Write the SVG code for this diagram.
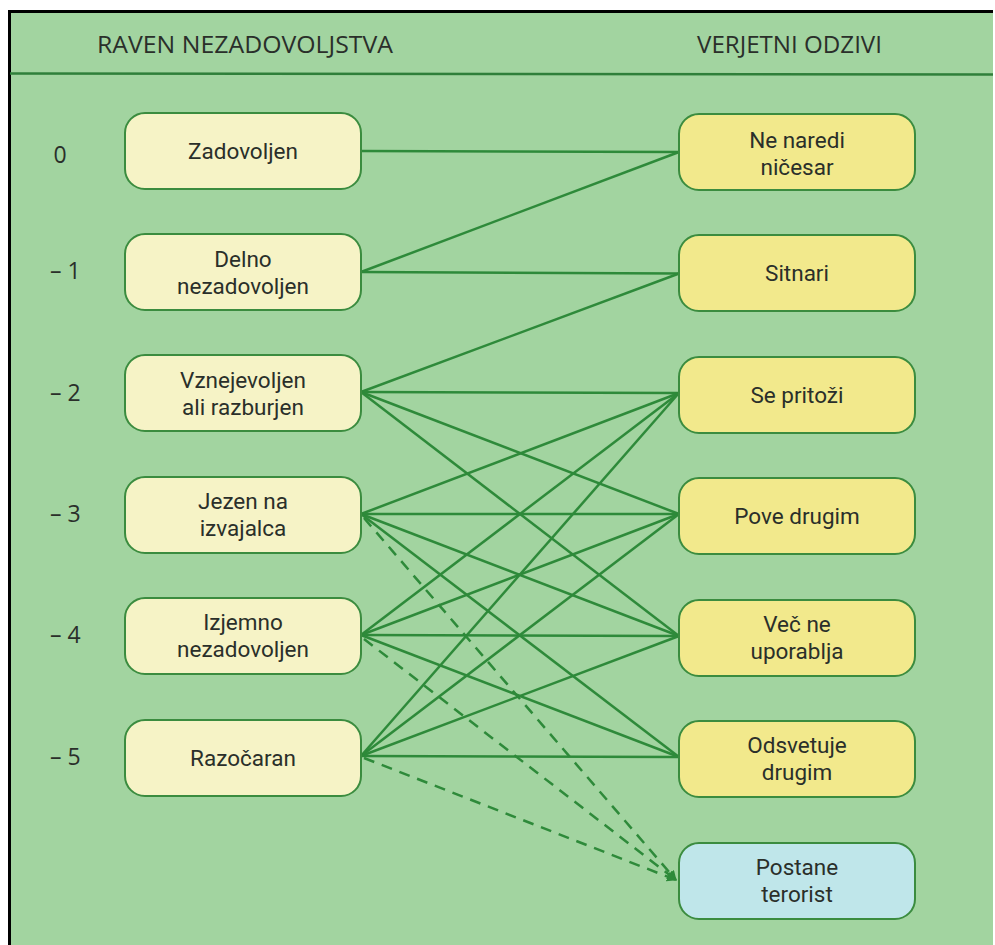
<svg xmlns="http://www.w3.org/2000/svg" width="995" height="945" viewBox="0 0 995 945">
<defs>
<style>
.bg{fill:#a2d4a0}
.frame{stroke:#000;stroke-width:3;fill:none}
.hdr{font-family:"Open Sans","Liberation Sans",sans-serif;font-size:24px;fill:#2a2f2a}
.lvl{font-family:"Open Sans","Liberation Sans",sans-serif;font-size:23px;fill:#2a2f2a}
.lbl{font-family:Roboto,"Open Sans","Liberation Sans",sans-serif;font-size:22.5px;fill:#2a2f2a;text-anchor:middle}
.nl{fill:#f6f3c6;stroke:#3b8c3f;stroke-width:2}
.nr{fill:#f2e98c;stroke:#3b8c3f;stroke-width:2}
.nt{fill:#bfe6ea;stroke:#3b8c3f;stroke-width:2}
.c{stroke:#2e8a3a;stroke-width:2.5;fill:none}
.d{stroke:#2e8a3a;stroke-width:2.5;fill:none;stroke-dasharray:11 8}
</style>
<marker id="ah" viewBox="0 0 10 10" refX="9" refY="5" markerWidth="4" markerHeight="4" markerUnits="strokeWidth" orient="auto">
<path d="M0,0 L10,5 L0,10 z" fill="#2e8a3a"/>
</marker>
</defs>
<rect x="0" y="0" width="995" height="945" fill="#fff"/>
<rect class="bg" x="10" y="12" width="983" height="933"/>
<path class="frame" d="M9.5,945 V11.5 H993"/>
<line x1="10" y1="73.5" x2="993" y2="74.5" stroke="#2f7f3a" stroke-width="2.5"/>
<text class="hdr" x="97" y="53" textLength="296" lengthAdjust="spacingAndGlyphs">RAVEN NEZADOVOLJSTVA</text>
<text class="hdr" x="697" y="53" textLength="185" lengthAdjust="spacingAndGlyphs">VERJETNI ODZIVI</text>
<g id="levels">
<text class="lvl" x="60" y="163" text-anchor="middle">0</text>
<text class="lvl" x="50" y="279">– 1</text>
<text class="lvl" x="50" y="401">– 2</text>
<text class="lvl" x="50" y="522">– 3</text>
<text class="lvl" x="50" y="643">– 4</text>
<text class="lvl" x="50" y="765">– 5</text>
</g>
<g id="connectors">
<line class="c" x1="361" y1="151" x2="679" y2="152"/>
<line class="c" x1="361" y1="272" x2="679" y2="152"/>
<line class="c" x1="361" y1="272" x2="679" y2="273.5"/>
<line class="c" x1="361" y1="392" x2="679" y2="273.5"/>
<line class="c" x1="361" y1="392" x2="679" y2="393"/>
<line class="c" x1="361" y1="392" x2="679" y2="514"/>
<line class="c" x1="361" y1="392" x2="679" y2="636"/>
<line class="c" x1="361" y1="514" x2="679" y2="393"/>
<line class="c" x1="361" y1="514" x2="679" y2="514"/>
<line class="c" x1="361" y1="514" x2="679" y2="636"/>
<line class="c" x1="361" y1="514" x2="679" y2="757"/>
<line class="c" x1="361" y1="635" x2="679" y2="393"/>
<line class="c" x1="361" y1="635" x2="679" y2="514"/>
<line class="c" x1="361" y1="635" x2="679" y2="636"/>
<line class="c" x1="361" y1="635" x2="679" y2="757"/>
<line class="c" x1="361" y1="756" x2="679" y2="393"/>
<line class="c" x1="361" y1="756" x2="679" y2="514"/>
<line class="c" x1="361" y1="756" x2="679" y2="636"/>
<line class="c" x1="361" y1="756" x2="679" y2="757"/>
<line class="d" x1="364" y1="518" x2="676" y2="880" marker-end="url(#ah)"/>
<line class="d" x1="364" y1="639" x2="676" y2="880" marker-end="url(#ah)"/>
<line class="d" x1="364" y1="758" x2="676" y2="880" marker-end="url(#ah)"/>
</g>
<g id="n-zadovoljen"><rect class="nl" x="125" y="113" width="236" height="76" rx="20"/><text class="lbl" x="243" y="159">Zadovoljen</text></g>
<g id="n-delno"><rect class="nl" x="125" y="234" width="236" height="76" rx="20"/><text class="lbl" x="243" y="267">Delno<tspan x="243" dy="27">nezadovoljen</tspan></text></g>
<g id="n-vznejevoljen"><rect class="nl" x="125" y="355" width="236" height="76" rx="20"/><text class="lbl" x="243" y="388">Vznejevoljen<tspan x="243" dy="27">ali razburjen</tspan></text></g>
<g id="n-jezen"><rect class="nl" x="125" y="477" width="236" height="76" rx="20"/><text class="lbl" x="243" y="509">Jezen na<tspan x="243" dy="27">izvajalca</tspan></text></g>
<g id="n-izjemno"><rect class="nl" x="125" y="598" width="236" height="76" rx="20"/><text class="lbl" x="243" y="630">Izjemno<tspan x="243" dy="27">nezadovoljen</tspan></text></g>
<g id="n-razocaran"><rect class="nl" x="125" y="720" width="236" height="76" rx="20"/><text class="lbl" x="243" y="766">Razočaran</text></g>
<g id="r-ne-naredi"><rect class="nr" x="679" y="114" width="236" height="76" rx="20"/><text class="lbl" x="797" y="148">Ne naredi<tspan x="797" dy="27">ničesar</tspan></text></g>
<g id="r-sitnari"><rect class="nr" x="679" y="235" width="236" height="76" rx="20"/><text class="lbl" x="797" y="281">Sitnari</text></g>
<g id="r-se-pritozi"><rect class="nr" x="679" y="357" width="236" height="76" rx="20"/><text class="lbl" x="797" y="403">Se pritoži</text></g>
<g id="r-pove-drugim"><rect class="nr" x="679" y="478" width="236" height="76" rx="20"/><text class="lbl" x="797" y="524">Pove drugim</text></g>
<g id="r-vec-ne"><rect class="nr" x="679" y="600" width="236" height="76" rx="20"/><text class="lbl" x="797" y="632">Več ne<tspan x="797" dy="27">uporablja</tspan></text></g>
<g id="r-odsvetuje"><rect class="nr" x="679" y="721" width="236" height="76" rx="20"/><text class="lbl" x="797" y="753">Odsvetuje<tspan x="797" dy="27">drugim</tspan></text></g>
<g id="r-postane"><rect class="nt" x="679" y="843" width="236" height="76" rx="20"/><text class="lbl" x="797" y="875">Postane<tspan x="797" dy="27">terorist</tspan></text></g>
</svg>
